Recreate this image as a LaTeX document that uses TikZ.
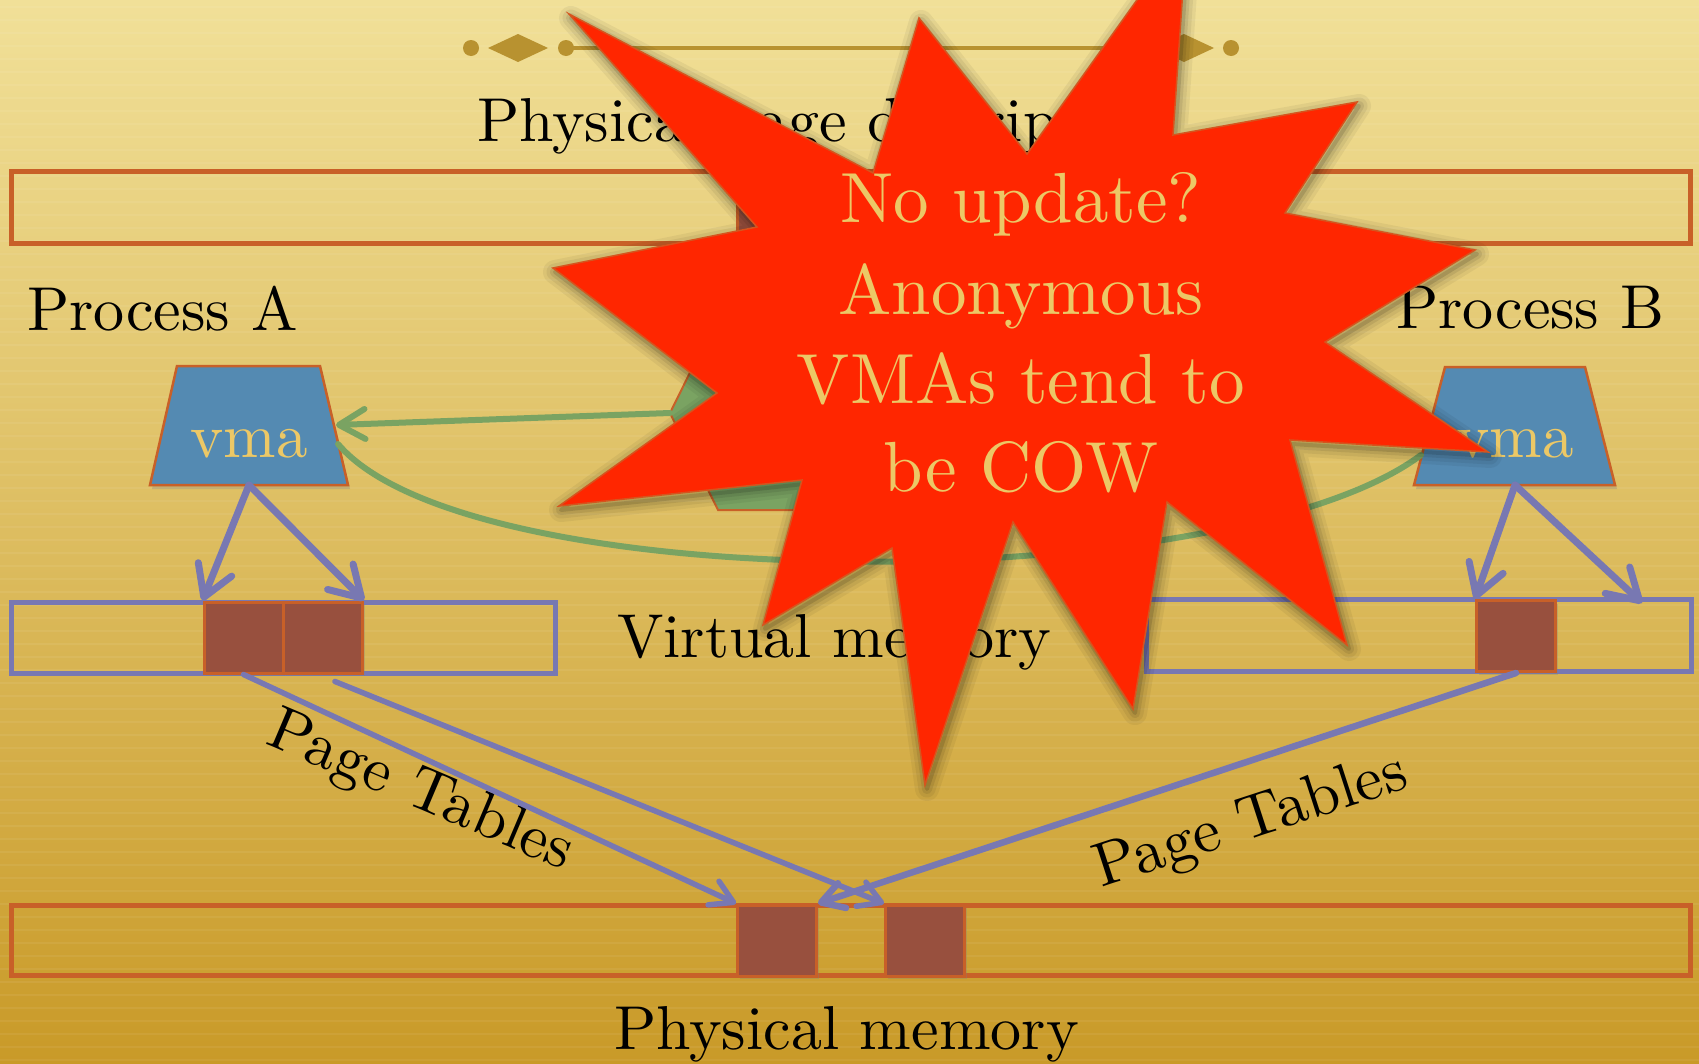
\documentclass[tikz,border=0pt]{standalone}
\usepackage{fontspec}
\setmainfont{lmroman10-regular.otf}
\usetikzlibrary{arrows.meta,shapes.geometric,shadows,calc}

\definecolor{bgtop}{RGB}{241,224,152}
\definecolor{bgmid}{RGB}{221,192,98}
\definecolor{bgbot}{RGB}{201,154,40}
\definecolor{ornament}{RGB}{184,146,48}
\definecolor{rust}{RGB}{200,96,40}
\definecolor{lilac}{RGB}{120,120,178}
\definecolor{leaf}{RGB}{122,163,98}
\definecolor{steel}{RGB}{84,138,178}
\definecolor{brick}{RGB}{152,80,62}
\definecolor{burst}{RGB}{255,38,0}
\definecolor{burstedge}{RGB}{214,84,30}
\definecolor{cream}{RGB}{236,200,102}

\tikzset{
  lbl/.style={font=\fontsize{62}{74}\selectfont, text=black, inner sep=0pt},
  memrow/.style={draw=#1, line width=5pt, inner sep=0pt},
  pageblk/.style={draw=rust, line width=3pt, fill=brick, minimum width=79pt,
    minimum height=71pt, inner sep=0pt,
    drop shadow={opacity=0.3, shadow xshift=2pt, shadow yshift=-3pt}},
  vmaface/.style={fill=steel, draw=rust, line width=2.5pt, line join=miter,
    drop shadow={opacity=0.3, shadow xshift=2pt, shadow yshift=-4pt}},
  vmatext/.style={font=\fontsize{63}{70}\selectfont, text=cream, inner sep=0pt},
  ptr/.style={draw=lilac, line width=7pt, line cap=round,
    -{Straight Barb[length=30pt, width=36pt, round]}},
  pte/.style={draw=lilac, line width=5.5pt, line cap=round,
    -{Straight Barb[length=22pt, width=26pt, round]}},
  link/.style={draw=leaf, line width=6pt, line cap=round},
  burstfill/.style={fill=burst, draw=burstedge, line width=1.5pt, line join=miter},
  bursttext/.style={font=\fontsize{71}{86}\selectfont, text=cream, inner sep=0pt},
}

% outline of the red burst
\def\burstpath{(569,14) -- (873,173) -- (919,18) -- (1027,154) -- (1187,-70)
  -- (1173,135) -- (1357,102) -- (1285,213) -- (1475,250) -- (1325,342)
  -- (1488,452) -- (1290,440) -- (1347,645) -- (1167,502) -- (1133,709)
  -- (1013,522) -- (925,785) -- (892,548) -- (763,625) -- (802,480)
  -- (559,506) -- (717,393) -- (553,268) -- (757,227) -- cycle}

\begin{document}
\begin{tikzpicture}[x=1pt,y=-1pt]
\useasboundingbox (0,0) rectangle (1699,1063);
\clip (0,0) rectangle (1699,1063);

% background
\shade[top color=bgtop, middle color=bgmid, bottom color=bgbot] (0,0) rectangle (1699,1063);
\foreach \yy in {7,20,...,1063}
  \draw[white, opacity=0.06, line width=1.5pt] (0,\yy) -- (1699,\yy);

% ornament under the title area
\draw[ornament, line width=4pt] (566,48) -- (1136,48);
\fill[ornament] (471,48) circle (8pt);
\fill[ornament] (566,48) circle (8pt);
\fill[ornament] (1136,48) circle (8pt);
\fill[ornament] (1231,48) circle (8pt);
\fill[ornament] (488,48) -- (518,34) -- (548,48) -- (518,62) -- cycle;
\fill[ornament] (1154,48) -- (1184,34) -- (1214,48) -- (1184,62) -- cycle;

% memory rows
\node[memrow=rust, minimum width=1679pt, minimum height=72pt] (descrow) at (850.5,207) {};
\node[memrow=lilac, minimum width=544pt, minimum height=71pt] (vrowA) at (283,637.5) {};
\node[memrow=lilac, minimum width=545pt, minimum height=72pt] (vrowB) at (1418.5,635) {};
\node[memrow=rust, minimum width=1679pt, minimum height=70pt] (physrow) at (850.5,940) {};

% pages
\node[pageblk] (D1) at (777,207) {};
\node[pageblk] (A1) at (243.5,637.5) {};
\node[pageblk] (A2) at (323,637.5) {};
\node[pageblk] (B1) at (1516,636) {};
\node[pageblk] (P1) at (777,940.5) {};
\node[pageblk] (P2) at (925,940.5) {};

% labels
\node[lbl, anchor=base west] (pgdesc) at (477,141) {Physical page descriptors};
\node[lbl, anchor=base west] (procA) at (27,330) {Process A};
\node[lbl, anchor=base west] (procB) at (1396,328) {Process B};
\node[lbl, anchor=base west] (virt) at (617,657) {Virtual memory};
\node[lbl, anchor=base west] (phys) at (614,1049) {Physical memory};
\node[lbl, rotate=-23] (ptA) at (420,793) {Page Tables};
\node[lbl, rotate=18] (ptB) at (1251,823) {Page Tables};

% shared object in the middle
\filldraw[fill=leaf, draw=rust, line width=2pt]
  (670,413) -- (718,316) -- (980,316) -- (1028,413) -- (980,510) -- (718,510) -- cycle;
\coordinate (hexW) at (670,413);

% the two vmas (trapezoids) with their attachment points
\path[vmaface] (177,366) -- (320,366) -- (348,485) -- (150,485) -- cycle;
\path[vmaface] (1445,367) -- (1585,367) -- (1615,485) -- (1414,485) -- cycle;
\coordinate (vmaAbot) at (249,485);
\coordinate (vmaAright) at (336,425);
\coordinate (vmaAcurve) at (338,444);
\coordinate (vmaBbot) at (1515,485);
\coordinate (vmaBcurve) at (1421,455);
\node[vmatext, anchor=base] (vmaAt) at (249,457) {vma};
\node[vmatext, anchor=base] (vmaBt) at (1515,457) {vma};

% green links
\draw[link, -{Straight Barb[length=26pt, width=30pt, round]}] (hexW) -- (vmaAright);
\draw[link] (vmaAcurve) .. controls (470,600) and (1230,598) .. (vmaBcurve);

% vma -> pages
\coordinate (Bfree) at (1642,603);
\draw[ptr] (vmaAbot) -- (A1.north west);
\draw[ptr] (vmaAbot) -- (A2.north east);
\draw[ptr] (vmaBbot) -- (B1.north west);
\draw[ptr] (vmaBbot) -- (Bfree);

% page tables
\draw[pte] (A1.south) -- (P1.north west);
\draw[pte] ($(A2.south)+(12,7)$) -- (P2.north west);
\draw[pte, line width=6.5pt] (B1.south) -- (P1.north east);

% burst: soft shadow, then the shape
\begin{scope}[shift={(2,4)}]
  \foreach \w/\o in {24pt/0.05, 17pt/0.06, 10pt/0.08, 4pt/0.12}
    \draw[black, draw opacity=\o, line width=\w, line join=round] \burstpath;
\end{scope}
\path[burstfill] \burstpath;

\node[bursttext, anchor=base] (w1) at (1021,222) {No update?};
\node[bursttext, anchor=base] (w2) at (1021,314) {Anonymous};
\node[bursttext, anchor=base] (w3) at (1021,403) {VMAs tend to};
\node[bursttext, anchor=base] (w4) at (1021,491) {be COW};
\end{tikzpicture}
\end{document}
